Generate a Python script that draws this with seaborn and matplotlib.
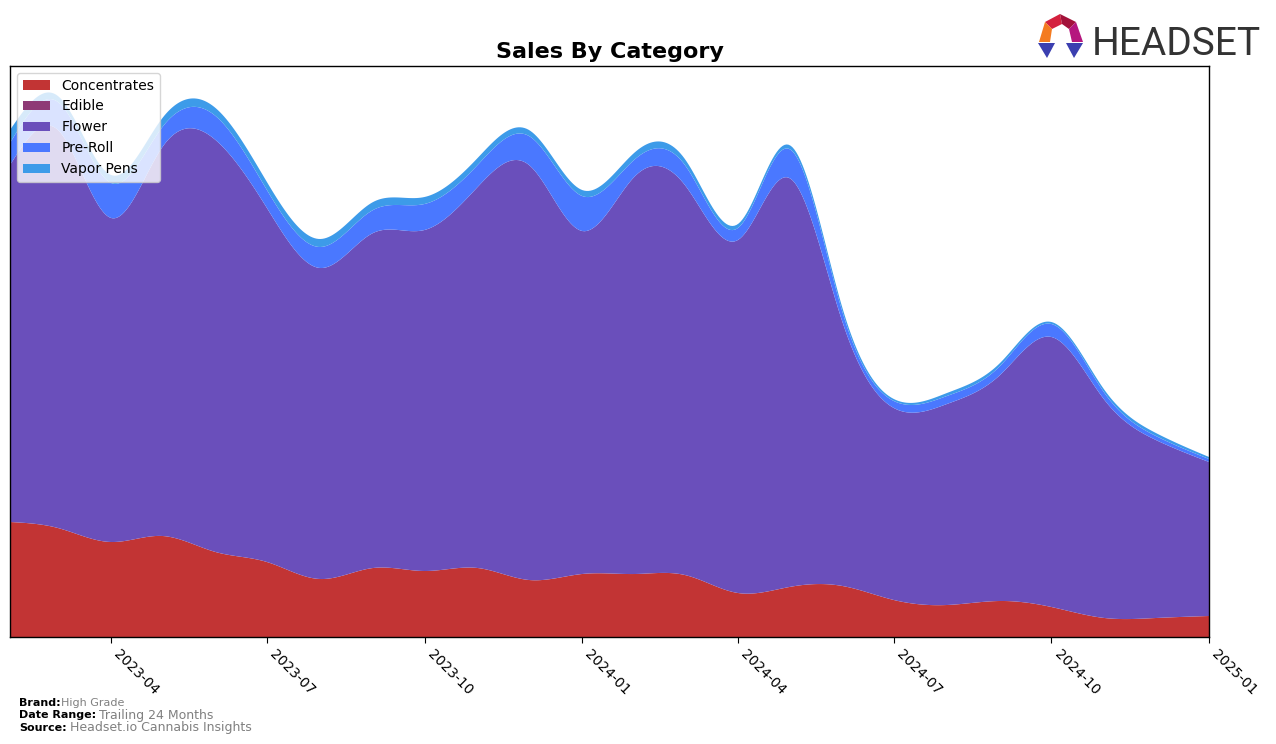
import numpy as np
import pandas as pd
import matplotlib
matplotlib.use("Agg")
import matplotlib.pyplot as plt
import matplotlib.dates as mdates
from matplotlib.patches import Polygon
import seaborn as sns

# ---------------- data ----------------
months = pd.date_range("2023-02-01", "2025-01-01", freq="MS")
categories = ["Concentrates", "Edible", "Flower", "Pre-Roll", "Vapor Pens"]
concentrates = [115, 109, 95, 101, 85, 75, 58, 69, 66, 69, 57, 63,
                63, 62, 44, 50, 51, 37, 32, 36, 30, 19, 19, 21]
edible = [0] * 24
flower = [357, 398, 324, 389, 412, 354, 311, 335, 341, 381, 415, 343,
          398, 390, 353, 409, 264, 192, 201, 226, 270, 218, 178, 154]
pre_roll = [22, 28, 35, 20, 24, 18, 21, 23, 26, 22, 29, 35,
            17, 20, 12, 29, 10, 7, 8, 9, 13, 7, 4, 3]
vapor_pens = [13, 6, 8, 9, 8, 8, 8, 8, 7, 7, 6, 6,
              7, 6, 4, 4, 4, 2, 3, 3, 2, 3, 3, 2]
tick_dates = pd.date_range("2023-04-01", "2025-01-01", freq="3MS")
colors = ["#c23434", "#8e3a76", "#6a4fbb", "#4a78ff", "#3d9be9"]


def natural_cubic(x, y, xs):
    x = np.asarray(x, float)
    y = np.asarray(y, float)
    n = len(x)
    h = np.diff(x)
    A = np.zeros((n, n))
    r = np.zeros(n)
    A[0, 0] = A[-1, -1] = 1
    for i in range(1, n - 1):
        A[i, i - 1] = h[i - 1]
        A[i, i] = 2 * (h[i - 1] + h[i])
        A[i, i + 1] = h[i]
        r[i] = 3 * ((y[i + 1] - y[i]) / h[i] - (y[i] - y[i - 1]) / h[i - 1])
    c = np.linalg.solve(A, r)
    b = (y[1:] - y[:-1]) / h - h * (2 * c[:-1] + c[1:]) / 3
    d = (c[1:] - c[:-1]) / (3 * h)
    idx = np.clip(np.searchsorted(x, xs) - 1, 0, n - 2)
    dx = xs - x[idx]
    return y[idx] + b[idx] * dx + c[idx] * dx ** 2 + d[idx] * dx ** 3


sns.set_style("white")
plt.rcParams["font.family"] = ["DejaVu Sans"]
plt.rcParams["text.color"] = "black"
plt.rcParams["axes.labelcolor"] = "black"
plt.rcParams["xtick.color"] = "black"
plt.rcParams["axes.titlecolor"] = "black"

fig = plt.figure(figsize=(12.76, 7.44), dpi=100)
ax = fig.add_axes([10 / 1276, 1 - 637 / 744, 1199 / 1276, 571 / 744])

xnum = mdates.date2num(months)
xs = np.linspace(xnum[0], xnum[-1], 600)
series = [concentrates, edible, flower, pre_roll, vapor_pens]
smooth = [np.clip(natural_cubic(xnum, s, xs), 0, None) for s in series]
polys_ = ax.stackplot(mdates.num2date(xs), *smooth, labels=categories, colors=colors,
                      linewidth=0)
for p in polys_:
    p.set_edgecolor("none")

ax.set_xlim(months[0], months[-1])
ax.set_ylim(0, 571)
ax.set_yticks([])
ax.set_xticks(tick_dates)
ax.xaxis.set_major_formatter(mdates.DateFormatter("%Y-%m"))
ax.tick_params(axis="x", length=4, width=0.8, color="black", labelcolor="black",
               labelsize=10, bottom=True)
for lab in ax.get_xticklabels():
    lab.set_rotation(-45)
    lab.set_ha("left")
    lab.set_va("top")
for sp in ax.spines.values():
    sp.set_visible(True)
    sp.set_color("black")
    sp.set_linewidth(1.0)

ax.set_title("Sales By Category", fontsize=16, fontweight="bold", pad=6, color="black")
leg = ax.legend(loc="upper left", fontsize=10, frameon=True, framealpha=0.8,
                borderaxespad=0.5)
for t in leg.get_texts():
    t.set_color("black")

# footer
fs = 8
fig.text(19 / 1276, 1 - 703 / 744, "Brand:", fontsize=fs, fontweight="bold", va="center", color="black")
fig.text(61 / 1276, 1 - 703 / 744, "High Grade", fontsize=fs, color="gray", va="center")
fig.text(19 / 1276, 1 - 715 / 744, "Date Range:", fontsize=fs, fontweight="bold", va="center", color="black")
fig.text(99 / 1276, 1 - 715 / 744, "Trailing 24 Months", fontsize=9, color="gray", va="center")
fig.text(19 / 1276, 1 - 728 / 744, "Source:", fontsize=fs, fontweight="bold", va="center", color="black")
fig.text(70 / 1276, 1 - 728 / 744, "Headset.io Cannabis Insights", fontsize=9, color="gray", va="center")

# logo
lax = fig.add_axes([0, 0, 1, 1], zorder=5)
lax.set_xlim(0, 1276)
lax.set_ylim(744, 0)
lax.axis("off")
polys = [
    ([(1045, 22), (1060, 14), (1062, 24), (1052, 29)], "#d4213d"),
    ([(1060, 14), (1076, 22), (1069, 29), (1062, 24)], "#a3123a"),
    ([(1045, 22), (1052, 29), (1050, 42), (1039, 42)], "#f47b20"),
    ([(1076, 22), (1083, 42), (1072, 42), (1069, 29)], "#b5177e"),
    ([(1038, 43), (1055, 43), (1047, 58)], "#3b3fb0"),
    ([(1066, 43), (1083, 43), (1074, 58)], "#3b3fb0"),
]
for pts, c in polys:
    lax.add_patch(Polygon(pts, closed=True, facecolor=c, edgecolor="none"))
lax.text(1092, 55, "HEADSET", fontsize=28, color="#333333",
         family=["Roboto", "DejaVu Sans"], va="baseline", ha="left")

fig.savefig("out.png", dpi=100)
